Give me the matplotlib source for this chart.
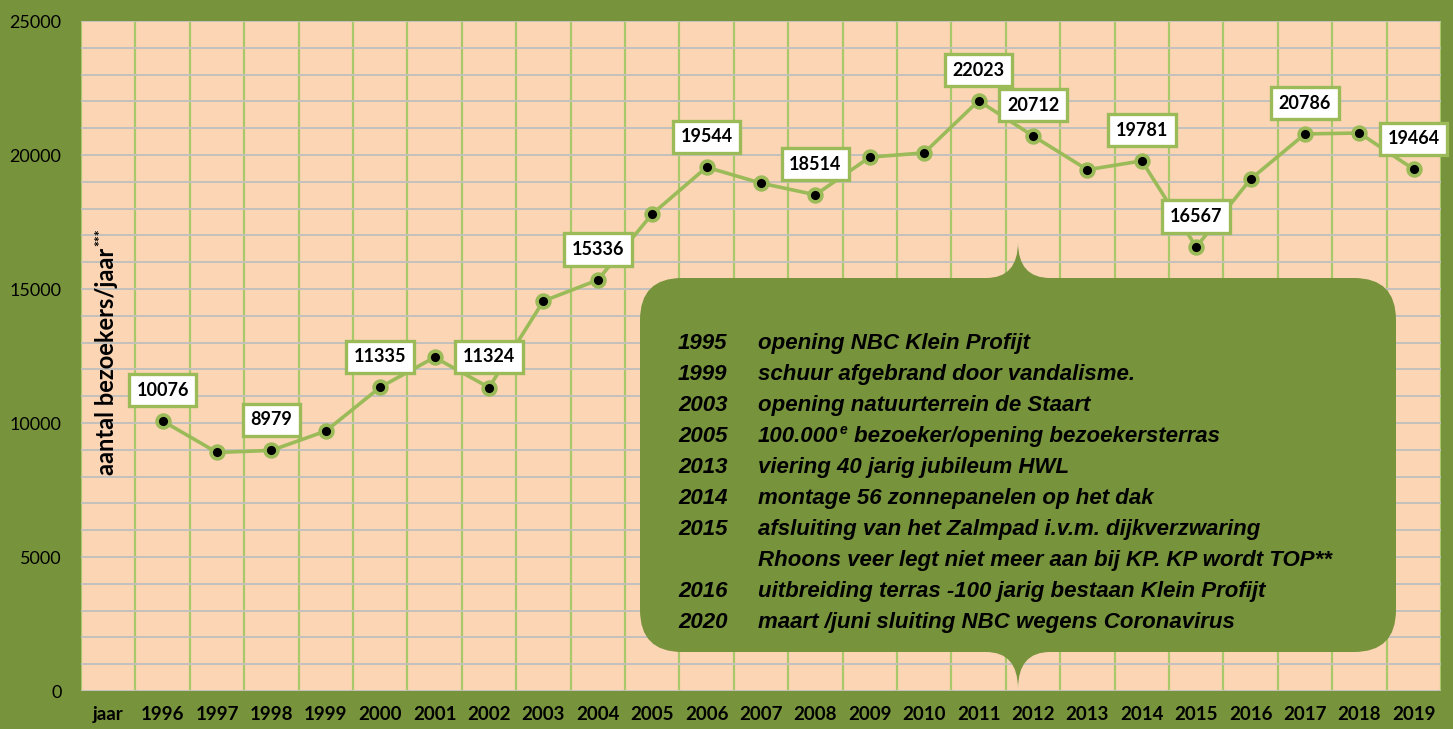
import matplotlib
matplotlib.use("Agg")
import matplotlib.pyplot as plt
from matplotlib.path import Path
from matplotlib.patches import PathPatch
from matplotlib.ticker import MultipleLocator, FixedLocator
import numpy as np

# ---------------- data ----------------
categories = ["jaar"] + [str(y) for y in range(1996, 2020)]
years = list(range(1996, 2020))
visitors = [10076, 8900, 8979, 9700, 11335, 12450, 11324, 14550, 15336, 17800,
            19544, 18950, 18514, 19920, 20080, 22023, 20712, 19450, 19781, 16567,
            19100, 20786, 20820, 19464]
labeled_years = [1996, 1998, 2000, 2002, 2004, 2006, 2008, 2011, 2012, 2014,
                 2015, 2017, 2019]
y_ticks = [0, 5000, 10000, 15000, 20000, 25000]
y_label = "aantal bezoekers/jaar"
event_years = ["1995", "1999", "2003", "2005", "2013", "2014", "2015", "", "2016", "2020"]
event_texts = [
    "opening NBC Klein Profijt",
    "schuur afgebrand door vandalisme.",
    "opening natuurterrein de Staart",
    "100.000|e|bezoeker/opening bezoekersterras",
    "viering 40 jarig jubileum HWL",
    "montage 56 zonnepanelen op het dak",
    "afsluiting van het Zalmpad i.v.m. dijkverzwaring",
    "Rhoons veer legt niet meer aan bij KP. KP wordt TOP**",
    "uitbreiding terras -100 jarig bestaan Klein Profijt",
    "maart /juni sluiting NBC wegens Coronavirus",
]

# ---------------- style ----------------
BG = "#77933C"
PLOT_BG = "#FCD5B5"
GREEN = "#9BBB59"
VGRID = "#A8C86A"
HGRID = "#C3C0BC"

W, H = 1453, 729
fig = plt.figure(figsize=(W / 100, H / 100), dpi=100, facecolor=BG)
ax = fig.add_axes([81 / W, (H - 691) / H, 1360 / W, 670 / H])
ax.set_facecolor(PLOT_BG)
ax.set_axisbelow(True)

xpos = [categories.index(str(y)) for y in years]
ax.set_xlim(-0.5, len(categories) - 0.5)
ax.set_ylim(0, 25000)

ax.set_xticks(range(len(categories)))
ax.set_xticklabels(categories, fontsize=13.5, fontweight="bold", fontfamily="Lato")
ax.xaxis.set_minor_locator(FixedLocator(np.arange(-0.5, len(categories), 1.0)))
ax.set_yticks(y_ticks)
ax.set_yticklabels([str(v) for v in y_ticks], fontsize=13, fontfamily="Lato")
ax.yaxis.set_minor_locator(MultipleLocator(1000))

ax.grid(axis="y", which="both", color=HGRID, lw=1.4)
ax.grid(axis="x", which="minor", color=VGRID, lw=1.6)
ax.grid(axis="x", which="major", visible=False)
ax.tick_params(which="both", length=0)
ax.tick_params(axis="y", pad=14)
ax.tick_params(axis="x", pad=11)
for s in ax.spines.values():
    s.set_visible(False)

# ---------------- events box ----------------
def fx(px):
    return px / W

def fy(py):
    return 1 - py / H

L, R, T, B, r = 640, 1396, 278, 652, 42
cx, w, tipT, tipB = 1018, 32, 242, 689
pts = [
    ((L + r, T), Path.MOVETO),
    ((cx - w, T), Path.LINETO),
    ((cx, T), Path.CURVE3), ((cx, tipT), Path.CURVE3),
    ((cx, T), Path.CURVE3), ((cx + w, T), Path.CURVE3),
    ((R - r, T), Path.LINETO),
    ((R, T), Path.CURVE3), ((R, T + r), Path.CURVE3),
    ((R, B - r), Path.LINETO),
    ((R, B), Path.CURVE3), ((R - r, B), Path.CURVE3),
    ((cx + w, B), Path.LINETO),
    ((cx, B), Path.CURVE3), ((cx, tipB), Path.CURVE3),
    ((cx, B), Path.CURVE3), ((cx - w, B), Path.CURVE3),
    ((L + r, B), Path.LINETO),
    ((L, B), Path.CURVE3), ((L, B - r), Path.CURVE3),
    ((L, T + r), Path.LINETO),
    ((L, T), Path.CURVE3), ((L + r, T), Path.CURVE3),
    ((L + r, T), Path.CLOSEPOLY),
]
verts = [(fx(p[0]), fy(p[1])) for p, _ in pts]
codes = [c for _, c in pts]
box = PathPatch(Path(verts, codes), transform=fig.transFigure, facecolor=BG,
                edgecolor="none", zorder=3)
ax.add_patch(box)
box.set_clip_on(False)

# ---------------- line ----------------
ax.plot(xpos, visitors, color=GREEN, lw=2.6, marker="o", ms=9.2, mfc="black",
        mec=GREEN, mew=2.6, zorder=5, solid_capstyle="round")

for yr, v in zip(years, visitors):
    if yr in labeled_years:
        ax.annotate(str(v), (categories.index(str(yr)), v), xytext=(0, 22),
                    textcoords="offset points", ha="center", va="center",
                    fontsize=13, fontweight="bold", fontfamily="Lato",
                    bbox=dict(boxstyle="square,pad=0.42", fc="white", ec=GREEN, lw=2.4),
                    zorder=6)

# ---------------- y label ----------------
renderer = fig.canvas.get_renderer()
yl = fig.text(fx(106), fy(361), y_label, rotation=90, ha="center", va="center",
              fontsize=17, fontweight="bold", fontfamily="Lato", color="black")
ybb = yl.get_window_extent(renderer=renderer)
fig.text(fx(100), (ybb.y1 + 1) / H, "***", rotation=90, ha="center", va="bottom",
         fontsize=10, fontweight="bold", fontfamily="Lato", color="black")

# ---------------- event texts ----------------
tkw = dict(fontfamily="Liberation Sans", fontweight="bold", fontstyle="italic",
           color="black", va="center", ha="left")
y0, dy = 343, 31.1
for i, (ey, et) in enumerate(zip(event_years, event_texts)):
    yy = y0 + i * dy
    if ey:
        fig.text(fx(678), fy(yy), ey, fontsize=16, **tkw)
    if "|" in et:
        a, sup, rest = et.split("|")
        t1 = fig.text(fx(758), fy(yy), a, fontsize=16, **tkw)
        bb = t1.get_window_extent(renderer=renderer)
        t2 = fig.text(bb.x1 / W + 1 / W, fy(yy - 6), sup, fontsize=10, **tkw)
        bb2 = t2.get_window_extent(renderer=renderer)
        fig.text(bb2.x1 / W + 7 / W, fy(yy), rest, fontsize=16, **tkw)
    else:
        fig.text(fx(758), fy(yy), et, fontsize=16, **tkw)

fig.savefig("out.png", dpi=100, facecolor=fig.get_facecolor())
